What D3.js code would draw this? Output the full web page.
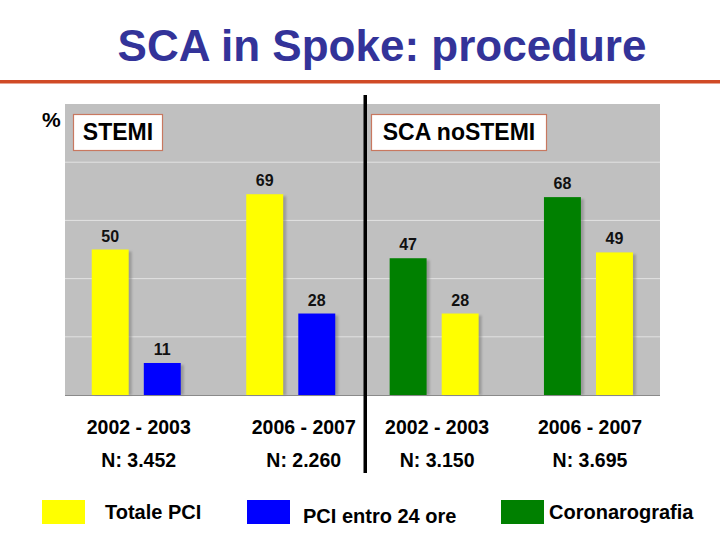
<!DOCTYPE html>
<html>
<head>
<meta charset="utf-8">
<script src="https://cdn.jsdelivr.net/npm/d3@7"></script>
<style>
  body { margin: 0; background: #fff; }
  svg text { font-family: "Liberation Sans", Arial, sans-serif; font-weight: bold; }
</style>
</head>
<body>
<svg id="chart" width="720" height="540"></svg>
<script>
// data
const panels = ["STEMI", "SCA noSTEMI"];
const periods = ["2002 - 2003", "2006 - 2007", "2002 - 2003", "2006 - 2007"];
const sampleN = ["N: 3.452", "N: 2.260", "N: 3.150", "N: 3.695"];
const groupPanel = [0, 0, 1, 1];
// bar order inside each panel
const panelSeries = [["Totale PCI", "PCI entro 24 ore"], ["Coronarografia", "Totale PCI"]];
const totalePCI = [50, 69, 28, 49];
const pciEntro24 = [11, 28, null, null];
const coronarografia = [null, null, 47, 68];
const legendNames = ["Totale PCI", "PCI entro 24 ore", "Coronarografia"];
const yTicks = [20, 40, 60, 80];

const seriesValues = {
  "Totale PCI": totalePCI,
  "PCI entro 24 ore": pciEntro24,
  "Coronarografia": coronarografia
};
const color = d3.scaleOrdinal()
  .domain(legendNames)
  .range(["#ffff00", "#0000ff", "#008000"]);

const svg = d3.select("#chart");

// title + rule
svg.append("text")
  .attr("x", 382).attr("y", 61)
  .attr("text-anchor", "middle")
  .attr("font-size", 44)
  .attr("fill", "#333399")
  .text("SCA in Spoke: procedure");
svg.append("rect")
  .attr("x", 0).attr("y", 80).attr("width", 720).attr("height", 3.5)
  .attr("fill", "#d04a26");

// plot area
const plot = { left: 65, right: 660, top: 104, bottom: 395 };
const y = d3.scaleLinear().domain([0, 100]).range([plot.bottom, plot.top]);

svg.append("rect")
  .attr("x", plot.left).attr("y", plot.top)
  .attr("width", plot.right - plot.left).attr("height", plot.bottom - plot.top)
  .attr("fill", "#c0c0c0");

svg.selectAll("line.grid").data(yTicks).join("line")
  .attr("class", "grid")
  .attr("x1", plot.left).attr("x2", plot.right)
  .attr("y1", d => y(d)).attr("y2", d => y(d))
  .attr("stroke", "#e2e2e2").attr("stroke-width", 1);

svg.append("line")
  .attr("x1", plot.left).attr("x2", plot.right)
  .attr("y1", plot.bottom + 0.5).attr("y2", plot.bottom + 0.5)
  .attr("stroke", "#8a8a8a");

// one band scale per panel, groups are the periods
const panelX = [
  d3.scaleBand().domain([0, 1]).range([59, 368]),
  d3.scaleBand().domain([2, 3]).range([357, 665.6])
];
const inner = d3.scaleBand().domain([0, 1]).range([-44.5, 44.5]).paddingInner(0.29);

const groupCenter = i => {
  const sx = panelX[groupPanel[i]];
  return sx(i) + sx.bandwidth() / 2;
};

const bars = [];
periods.forEach((p, i) => {
  panelSeries[groupPanel[i]].forEach((s, j) => {
    const v = seriesValues[s][i];
    if (v != null) bars.push({ group: i, slot: j, series: s, value: v });
  });
});

const barX = d => groupCenter(d.group) + inner(d.slot);

// soft shadow
svg.append("defs").append("filter").attr("id", "blur")
  .append("feGaussianBlur").attr("stdDeviation", 1.2);

svg.selectAll("rect.shadow").data(bars).join("rect")
  .attr("class", "shadow")
  .attr("x", d => barX(d) + 3)
  .attr("y", d => y(d.value) + 2)
  .attr("width", inner.bandwidth())
  .attr("height", d => y(0) - y(d.value) - 2)
  .attr("fill", "#7a7a7a")
  .attr("opacity", 0.55)
  .attr("filter", "url(#blur)");

svg.selectAll("rect.bar").data(bars).join("rect")
  .attr("class", "bar")
  .attr("x", barX)
  .attr("y", d => y(d.value))
  .attr("width", inner.bandwidth())
  .attr("height", d => y(0) - y(d.value))
  .attr("fill", d => color(d.series));

svg.selectAll("text.val").data(bars).join("text")
  .attr("class", "val")
  .attr("x", d => barX(d) + inner.bandwidth() / 2)
  .attr("y", d => y(d.value) - 8)
  .attr("text-anchor", "middle")
  .attr("font-size", 16)
  .attr("fill", "#111")
  .text(d => d.value);

// panel tags
const tagBoxes = [
  { x: 73, w: 89 },
  { x: 371, w: 175 }
];
panels.forEach((name, k) => {
  svg.append("rect")
    .attr("x", tagBoxes[k].x + 0.5).attr("y", 114.5)
    .attr("width", tagBoxes[k].w).attr("height", 36)
    .attr("fill", "#fff").attr("stroke", "#c87860").attr("stroke-width", 1.2);
  svg.append("text")
    .attr("x", tagBoxes[k].x + tagBoxes[k].w / 2 + 0.5).attr("y", 140)
    .attr("text-anchor", "middle")
    .attr("font-size", 23)
    .attr("fill", "#000")
    .text(name);
});

svg.append("text")
  .attr("x", 42).attr("y", 127)
  .attr("font-size", 21)
  .text("%");

// divider
svg.append("rect")
  .attr("x", 363.5).attr("y", 95).attr("width", 3.5).attr("height", 378)
  .attr("fill", "#000");

// period labels under the groups
const labelNudge = [2.5, 13, 3, 1.5];
svg.selectAll("text.period").data(periods).join("text")
  .attr("class", "period")
  .attr("x", (d, i) => groupCenter(i) + labelNudge[i])
  .attr("y", 434)
  .attr("text-anchor", "middle")
  .attr("font-size", 19.5)
  .text(d => d);
svg.selectAll("text.samp").data(sampleN).join("text")
  .attr("class", "samp")
  .attr("x", (d, i) => groupCenter(i) + labelNudge[i])
  .attr("y", 467)
  .attr("text-anchor", "middle")
  .attr("font-size", 19.5)
  .text(d => d);

// legend
const legendPos = [
  { sx: 42, tx: 105, ty: 519 },
  { sx: 247, tx: 303, ty: 523 },
  { sx: 501, tx: 549, ty: 519 }
];
const lg = svg.selectAll("g.legend").data(legendNames).join("g").attr("class", "legend");
lg.append("rect")
  .attr("x", (d, i) => legendPos[i].sx).attr("y", 500)
  .attr("width", 43).attr("height", 24)
  .attr("fill", d => color(d));
lg.append("text")
  .attr("x", (d, i) => legendPos[i].tx)
  .attr("y", (d, i) => legendPos[i].ty)
  .attr("font-size", 20)
  .text(d => d);
</script>
</body>
</html>
